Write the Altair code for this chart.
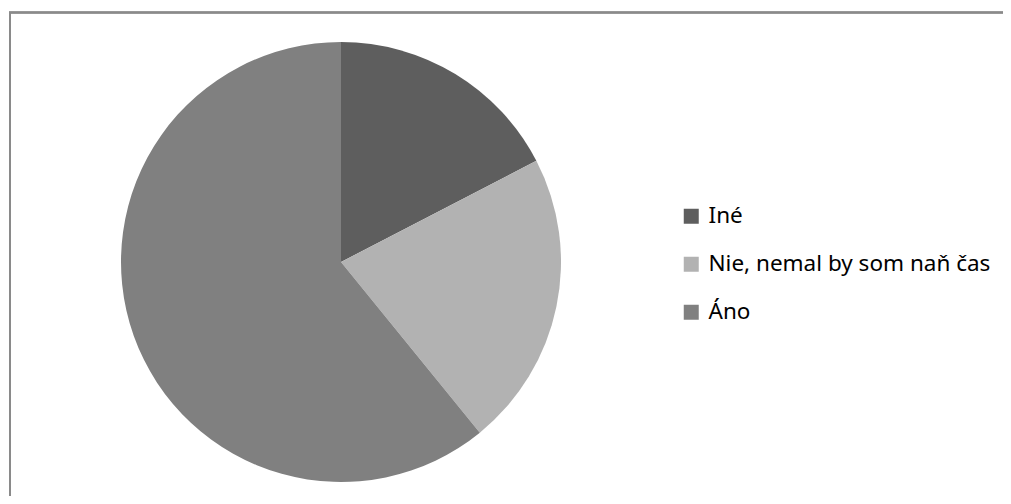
import altair as alt
import pandas as pd

categories = ["Iné", "Nie, nemal by som naň čas", "Áno"]
values = [8, 10, 28]
order = [1, 2, 3]
colors = ["#5e5e5e", "#b2b2b2", "#808080"]

df = pd.DataFrame({"cat": categories, "val": values, "ord": order})

pie = alt.Chart(df).mark_arc(radius=220, stroke=None).encode(
    theta=alt.Theta("val:Q", stack=True),
    order=alt.Order("ord:Q"),
    color=alt.Color(
        "cat:N",
        scale=alt.Scale(domain=categories, range=colors),
        legend=alt.Legend(
            title=None,
            orient="none",
            legendX=672,
            legendY=197,
            symbolType="square",
            symbolSize=225,
            symbolStrokeWidth=0,
            labelFont="Noto Sans",
            labelFontSize=22.5,
            labelColor="#000000",
            labelOffset=6,
            rowPadding=25,
            padding=0,
            labelLimit=400,
        ),
    ),
    x=alt.value(333),
    y=alt.value(254),
)

border_top = alt.Chart(df).mark_rule(color="#8a8a8a", strokeWidth=2).encode(
    x=alt.value(1), x2=alt.value(995), y=alt.value(4.5)
)
border_left = alt.Chart(df).mark_rule(color="#8a8a8a", strokeWidth=2).encode(
    x=alt.value(2), y=alt.value(4), y2=alt.value(488)
)

chart = alt.layer(pie, border_top, border_left).properties(
    width=995, height=488, autosize=alt.AutoSizeParams(type="none"), padding=0
).configure_view(strokeWidth=0)

chart.save("out.html", embed_options={"renderer": "svg", "actions": False})
